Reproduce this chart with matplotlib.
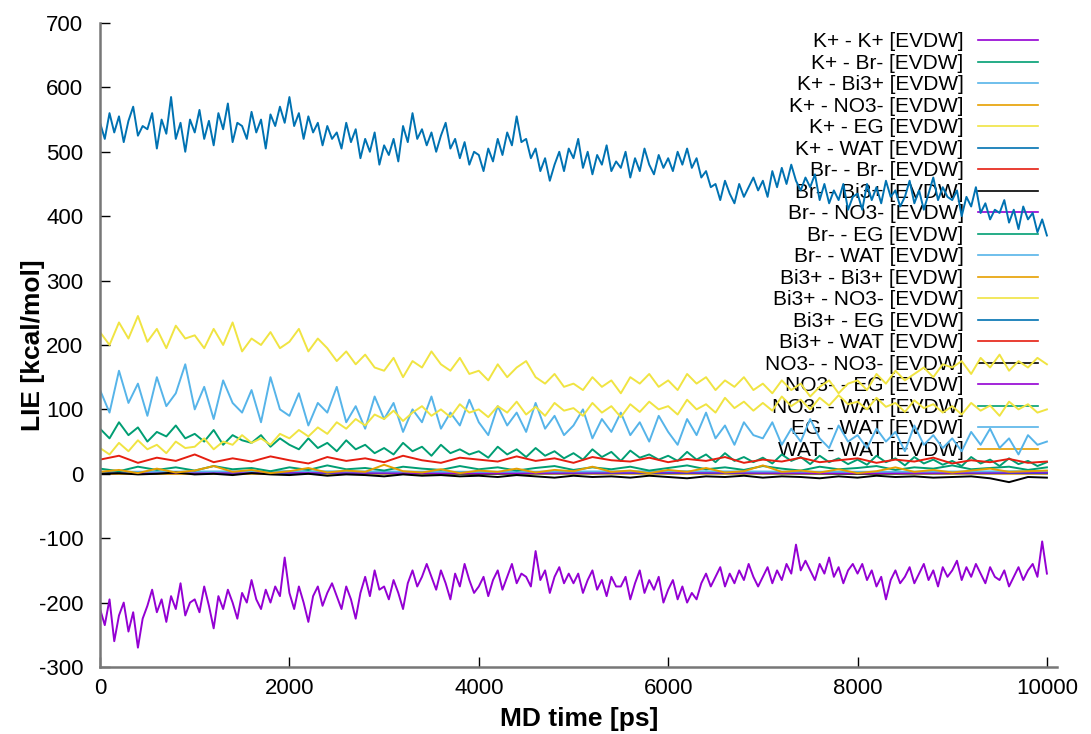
import numpy as np
import matplotlib
matplotlib.use("Agg")
import matplotlib.pyplot as plt

plt.rcParams["font.family"] = ["Liberation Sans", "DejaVu Sans"]
plt.rcParams["axes.unicode_minus"] = False

# time axes (ps)
t50 = np.arange(0, 10001, 50)
t100 = np.arange(0, 10001, 100)
t200 = np.arange(0, 10001, 200)
t2000 = np.arange(0, 10001, 2000)

# values (kcal/mol)
k_wat = [
    545, 520, 560, 530, 555, 515, 548, 570, 525, 540,
    535, 560, 505, 550, 528, 585, 520, 545, 500, 550,
    530, 565, 520, 548, 510, 560, 535, 575, 515, 545,
    540, 520, 562, 530, 550, 505, 558, 540, 570, 545,
    585, 540, 560, 520, 555, 530, 545, 510, 540, 520,
    530, 505, 545, 515, 535, 490, 520, 500, 530, 480,
    510, 495, 520, 485, 540, 515, 560, 520, 535, 510,
    530, 500, 525, 545, 505, 520, 490, 515, 480, 500,
    495, 470, 505, 485, 520, 495, 530, 510, 555, 515,
    520, 490, 505, 470, 490, 455, 480, 500, 470, 505,
    490, 520, 475, 500, 465, 495, 480, 510, 470, 485,
    475, 500, 460, 490, 470, 505, 480, 465, 495, 475,
    490, 470, 500, 480, 505, 475, 490, 460, 470, 445,
    450, 425, 455, 435, 420, 450, 430, 445, 460, 440,
    455, 430, 470, 445, 475, 450, 480, 455, 440, 460,
    445, 465, 425, 450, 420, 440, 425, 450, 410, 430,
    435, 410, 450, 425, 445, 420, 455, 430, 440, 415,
    430, 455, 420, 440, 410, 435, 460, 425, 445, 430,
    425, 440, 400, 430, 415, 445, 405, 420, 395, 410,
    405, 425, 390, 410, 380, 415, 395, 405, 375, 395,
    370,
]
k_k = [
    -210, -235, -195, -260, -220, -200, -245, -215, -270, -225,
    -205, -180, -215, -195, -230, -190, -210, -170, -220, -200,
    -195, -215, -175, -205, -240, -190, -210, -180, -200, -225,
    -185, -200, -165, -195, -210, -180, -200, -175, -190, -130,
    -185, -210, -175, -200, -230, -190, -175, -205, -185, -170,
    -190, -210, -175, -195, -225, -185, -160, -190, -150, -180,
    -175, -195, -165, -185, -210, -170, -150, -175, -160, -140,
    -160, -180, -150, -170, -195, -155, -175, -140, -165, -185,
    -175, -160, -190, -165, -150, -180, -160, -140, -170, -155,
    -160, -175, -120, -165, -150, -185, -160, -145, -170, -155,
    -170, -155, -185, -165, -150, -180, -165, -190, -160, -175,
    -175, -160, -195, -170, -150, -185, -165, -180, -160, -200,
    -180, -165, -195, -175, -200, -185, -195, -170, -155, -175,
    -160, -145, -175, -155, -170, -150, -165, -140, -160, -175,
    -160, -145, -170, -150, -165, -140, -155, -110, -150, -135,
    -150, -165, -140, -155, -130, -160, -145, -170, -150, -140,
    -155, -140, -165, -150, -175, -160, -195, -165, -150, -170,
    -160, -145, -170, -155, -140, -165, -150, -175, -145, -160,
    -150, -135, -165, -145, -160, -140, -155, -170, -145, -160,
    -165, -150, -175, -160, -145, -165, -150, -140, -160, -105,
    -155,
]
k_eg = [
    220, 200, 235, 210, 245, 205, 225, 195, 230, 210,
    215, 195, 225, 200, 235, 190, 210, 200, 220, 195,
    205, 225, 190, 210, 195, 175, 190, 170, 185, 165,
    160, 180, 150, 175, 165, 190, 170, 160, 180, 155,
    160, 145, 170, 150, 165, 175, 150, 140, 155, 135,
    140, 130, 150, 135, 145, 125, 150, 140, 155, 135,
    145, 130, 155, 140, 150, 130, 145, 135, 150, 130,
    140, 125, 145, 130, 140, 120, 135, 145, 125, 140,
    145, 130, 155, 140, 160, 145, 155, 165, 150, 170,
    165, 175, 155, 180, 165, 185, 160, 175, 165, 180,
    170,
]
bi_no3 = [
    40, 30, 48, 35, 52, 38, 45, 32, 50, 40,
    42, 55, 38, 50, 45, 60, 48, 55, 45, 62,
    55, 68, 58, 72, 62, 80, 70, 85, 75, 92,
    85, 98, 82, 95, 105, 90, 100, 88, 108, 95,
    100, 88, 105, 95, 112, 92, 104, 90, 110, 98,
    102, 90, 110, 95, 105, 88, 108, 96, 112, 100,
    105, 92, 115, 100, 108, 95, 118, 102, 112, 98,
    110, 98, 120, 105, 115, 100, 118, 106, 122, 108,
    112, 100, 118, 104, 110, 96, 114, 102, 108, 95,
    105, 92, 110, 98, 106, 90, 112, 100, 108, 95,
    100,
]
k_bi = [
    130, 95, 160, 110, 140, 90, 150, 105, 125, 170,
    100, 135, 85, 145, 110, 95, 130, 80, 150, 100,
    90, 125, 75, 110, 95, 135, 80, 105, 70, 120,
    85, 110, 65, 100, 80, 120, 70, 95, 75, 115,
    80, 60, 105, 75, 95, 65, 110, 70, 90, 60,
    75, 100, 55, 85, 65, 95, 60, 80, 50, 90,
    65, 45, 85, 60, 95, 55, 75, 45, 80, 60,
    55, 80, 45, 70, 50, 85, 55, 40, 75, 50,
    60, 40, 70, 50, 65, 35, 75, 45, 60, 40,
    55, 35, 65, 45, 70, 40, 55, 30, 60, 45,
    50,
]
br_eg = [
    70, 55, 80, 60, 72, 50, 65, 58, 75, 55,
    62, 50, 68, 45, 60, 52, 48, 60, 42, 55,
    45, 38, 55, 40, 48, 35, 52, 38, 45, 32,
    40, 30, 48, 35, 42, 28, 45, 32, 38, 30,
    35, 25, 42, 30, 38, 26, 40, 28, 35, 24,
    32, 22, 38, 26, 34, 20, 36, 25, 30, 22,
    28, 20, 34, 22, 30, 18, 32, 20, 26, 18,
    25, 16, 30, 20, 26, 15, 28, 18, 24, 15,
    22, 14, 28, 18, 24, 13, 26, 16, 22, 14,
    20, 12, 26, 16, 22, 12, 24, 15, 20, 12,
    18,
]
bi_wat = [22, 28, 17, 25, 20, 30, 18, 24, 19, 27, 21, 16, 26, 20, 24, 18, 28,
          21, 17, 25, 22, 19, 27, 20, 24, 17, 26, 21, 19, 25, 18, 23, 20, 26,
          17, 22, 19, 25, 18, 21, 24, 17, 22, 19, 25, 16, 21, 18, 23, 17, 19]
no3_wat = [8, 4, 11, 6, 10, 5, 12, 7, 9, 4, 10, 6, 13, 7, 9, 5, 11, 8, 6, 12,
           7, 10, 5, 9, 12, 6, 10, 7, 11, 5, 9, 13, 7, 10, 6, 12, 8, 5, 11, 7,
           9, 12, 6, 10, 8, 13, 7, 9, 11, 6, 10]
wat_wat = [3, 6, 1, 8, 2, 5, 12, 3, 6, 1, 4, 9, 2, 5, 3, 14, 4, 2, 7, 1, 5, 3,
           8, 2, 6, 4, 11, 3, 5, 1, 6, 3, 9, 2, 4, 13, 3, 5, 2, 7, 1, 4, 10, 3,
           6, 2, 5, 8, 3, 4, 5]
no3_no3 = [0, 1, -1, 0, 2, -1, 0, -2, 1, -1, -2, 0, -3, -1, -2, -4, -1, -3, -2,
           -4, -3, -5, -2, -4, -6, -3, -5, -4, -6, -3, -5, -7, -4, -5, -3, -6,
           -4, -5, -7, -4, -6, -3, -5, -4, -6, -5, -4, -7, -13, -5, -6]
# small pairs hidden under the others
k_br = [2, 3, 2, 3, 2, 3]
k_no3 = [2, 3, 2, 3, 2, 3]
br_br = [1, 2, 1, 2, 1, 2]
br_bi = [0, 1, 0, 1, 0, 1]
br_no3 = [1, 1, 2, 1, 2, 1]
br_wat = [3, 2, 3, 2, 3, 2]
bi_bi = [0, 0, 1, 0, 1, 0]
bi_eg = [2, 1, 2, 1, 2, 1]
no3_eg = [1, 2, 1, 2, 1, 2]
eg_wat = [3, 4, 3, 4, 3, 4]

PURPLE, GREEN, LBLUE, ORANGE = "#9400d3", "#009e73", "#56b4e9", "#e69f00"
YELLOW, BLUE, RED, BLACK = "#f0e442", "#0072b2", "#e51e10", "#000000"

series = [
    ("K+ - K+ [EVDW]", t50, k_k, PURPLE, 2),
    ("K+ - Br- [EVDW]", t2000, k_br, GREEN, 1),
    ("K+ - Bi3+ [EVDW]", t100, k_bi, LBLUE, 2),
    ("K+ - NO3- [EVDW]", t2000, k_no3, ORANGE, 1),
    ("K+ - EG [EVDW]", t100, k_eg, YELLOW, 2),
    ("K+ - WAT [EVDW]", t50, k_wat, BLUE, 2),
    ("Br- - Br- [EVDW]", t2000, br_br, RED, 1),
    ("Br- - Bi3+ [EVDW]", t2000, br_bi, BLACK, 1),
    ("Br- - NO3- [EVDW]", t2000, br_no3, PURPLE, 1),
    ("Br- - EG [EVDW]", t100, br_eg, GREEN, 2),
    ("Br- - WAT [EVDW]", t2000, br_wat, LBLUE, 1),
    ("Bi3+ - Bi3+ [EVDW]", t2000, bi_bi, ORANGE, 1),
    ("Bi3+ - NO3- [EVDW]", t100, bi_no3, YELLOW, 2),
    ("Bi3+ - EG [EVDW]", t2000, bi_eg, BLUE, 1),
    ("Bi3+ - WAT [EVDW]", t200, bi_wat, RED, 2),
    ("NO3- - NO3- [EVDW]", t200, no3_no3, BLACK, 2),
    ("NO3- - EG [EVDW]", t2000, no3_eg, PURPLE, 1),
    ("NO3- - WAT [EVDW]", t200, no3_wat, GREEN, 2),
    ("EG - WAT [EVDW]", t2000, eg_wat, LBLUE, 1),
    ("WAT - WAT [EVDW]", t200, wat_wat, ORANGE, 2),
]

fig = plt.figure(figsize=(10.91, 7.34), dpi=100)
ax = fig.add_axes([0.0917, 0.0913, 0.877, 0.8774])

for label, t, v, col, z in series:
    ax.plot(t, v, color=col, lw=1.4, label=label, zorder=z)

ax.set_xlim(0, 10105)
ax.set_ylim(-300, 700)
ax.set_xticks(range(0, 10001, 2000))
ax.set_yticks(range(-300, 701, 100))
ax.tick_params(direction="in", length=7, width=1, labelsize=16, pad=8)
ax.tick_params(axis="y", pad=12)
for s in ("top", "right"):
    ax.spines[s].set_visible(False)
for s in ("left", "bottom"):
    ax.spines[s].set_color("#777777")
    ax.spines[s].set_linewidth(1.8)

ax.set_xlabel("MD time [ps]", fontsize=19, fontweight="bold")
ax.set_ylabel("LIE [kcal/mol]", fontsize=19, fontweight="bold")
ax.xaxis.set_label_coords(0.5005, -0.062)
ax.yaxis.set_label_coords(-0.058, 0.5)

leg = ax.legend(loc="upper right", bbox_to_anchor=(1038 / 1091, 0.956),
                bbox_transform=fig.transFigure, frameon=False,
                markerfirst=False, fontsize=15, labelspacing=0.12,
                handlelength=2.9, handletextpad=0.67, borderpad=0,
                borderaxespad=0)
leg.set_zorder(1.5)
for h in leg.get_lines():
    h.set_linewidth(1.2)

fig.savefig("out.png", dpi=100)
